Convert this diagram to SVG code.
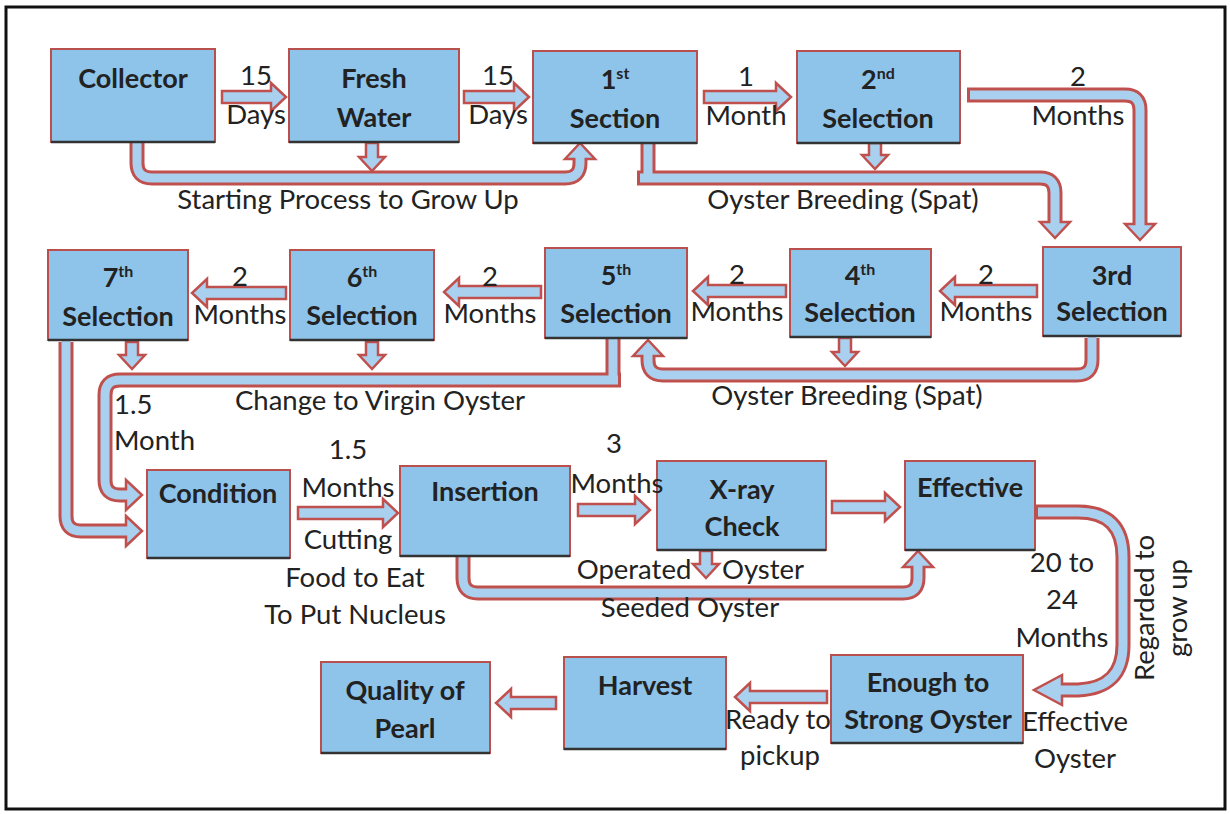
<svg xmlns="http://www.w3.org/2000/svg" width="1230" height="814" viewBox="0 0 1230 814">
<style>
.bg{fill:#ffffff}
.frame{fill:none;stroke:#111;stroke-width:3}
.box{fill:#8ec4ea;stroke:#b9504e;stroke-width:2}
.sh{stroke:#333;stroke-width:2.5}
.lbl{font-family:Lato,"Liberation Sans",sans-serif;font-size:27px;font-weight:bold;text-anchor:middle;fill:#222}
.txt{font-family:Lato,"Liberation Sans",sans-serif;font-size:27.5px;text-anchor:middle;fill:#222}
.sup{font-size:16px}
.arr{fill:#a9d1ef;stroke:#c0504d;stroke-width:2.5;stroke-linejoin:miter}
.cout{fill:none;stroke:#c0504d;stroke-width:15}
.cin{fill:none;stroke:#a9d1ef;stroke-width:9}
</style>
<rect class="bg" x="0" y="0" width="1230" height="814"/>
<rect class="frame" x="6" y="7" width="1219" height="802"/>

<g id="connectors">
  <!-- straight block arrows -->
  <path class="arr" d="M222,91 H271 V83 L286,97 L271,111 V103 H222 Z"/>
  <path class="arr" d="M464,91 H514 V83 L529,97 L514,111 V103 H464 Z"/>
  <path class="arr" d="M704,91 H776 V83 L791,97 L776,111 V103 H704 Z"/>
  <path class="arr" d="M286,287 H207 V279 L192,293 L207,307 V299 H286 Z"/>
  <path class="arr" d="M541,286 H459 V278 L444,292 L459,306 V298 H541 Z"/>
  <path class="arr" d="M786,285 H708 V277 L693,291 L708,305 V297 H786 Z"/>
  <path class="arr" d="M1037,285 H955 V277 L940,291 L955,305 V297 H1037 Z"/>
  <path class="arr" d="M298,507 H383 V499 L398,513 L383,527 V519 H298 Z"/>
  <path class="arr" d="M578,504 H635 V496 L650,510 L635,524 V516 H578 Z"/>
  <path class="arr" d="M832,501 H885 V493 L900,507 L885,521 V513 H832 Z"/>
  <path class="arr" d="M827,691 H750 V683 L735,697 L750,711 V703 H827 Z"/>
  <path class="arr" d="M556,697 H511 V689 L496,703 L511,717 V709 H556 Z"/>
  <!-- small down arrows -->
  <path class="arr" d="M366,143 V157 H359 L372,171 L385,157 H378 V143 Z"/>
  <path class="arr" d="M869,143 V155 H862 L875,169 L888,155 H881 V143 Z"/>
  <path class="arr" d="M126,342 V355 H119 L132,369 L145,355 H138 V342 Z"/>
  <path class="arr" d="M366,342 V355 H359 L372,369 L385,355 H378 V342 Z"/>
  <path class="arr" d="M839,338 V352 H832 L845,366 L858,352 H851 V338 Z"/>
  <path class="arr" d="M700,551 V564 H693 L706,578 L719,564 H712 V551 Z"/>

  <!-- heads of bent connectors -->
  <path class="arr" d="M565,159 L580,143 L595,159 Z"/>
  <path class="arr" d="M1040,222 L1055,238 L1070,222 Z"/>
  <path class="arr" d="M1125,224 L1140,240 L1155,224 Z"/>
  <path class="arr" d="M633,356 L648,340 L663,356 Z"/>
  <path class="arr" d="M126,480 L142,495 L126,510 Z"/>
  <path class="arr" d="M126,516 L142,531 L126,546 Z"/>
  <path class="arr" d="M903,567 L918,551 L933,567 Z"/>
  <path class="arr" d="M1062,675 L1034,690 L1062,705 Z"/>

  <!-- bent connectors: outline -->
  <path class="cout" d="M137,142 V163 Q137,178 152,178 H565 Q580,178 580,163 V159"/>
  <path class="cout" d="M648,143 V178 M637,178 H1040 Q1055,178 1055,193 V222"/>
  <path class="cout" d="M967,95 H1125 Q1140,95 1140,110 V224"/>
  <path class="cout" d="M1092,338 V360 Q1092,375 1077,375 H663 Q648,375 648,360 V356"/>
  <path class="cout" d="M613,338 V380 M621,380 H120 Q105,380 105,395 V480 Q105,495 120,495 H126"/>
  <path class="cout" d="M66,342 V516 Q66,531 81,531 H126"/>
  <path class="cout" d="M463,557 V578 Q463,593 478,593 H903 Q918,593 918,578 V567"/>
  <path class="cout" d="M1035,512 H1078 Q1123,512 1123,557 V645 Q1123,688 1078,690 H1062"/>
  <!-- bent connectors: fill -->
  <path class="cin" d="M137,141 V163 Q137,178 152,178 H565 Q580,178 580,163 V156"/>
  <path class="cin" d="M648,142 V178 M640,178 H1040 Q1055,178 1055,193 V225"/>
  <path class="cin" d="M970,95 H1125 Q1140,95 1140,110 V227"/>
  <path class="cin" d="M1092,337 V360 Q1092,375 1077,375 H663 Q648,375 648,360 V353"/>
  <path class="cin" d="M613,337 V380 M618,380 H120 Q105,380 105,395 V480 Q105,495 120,495 H129"/>
  <path class="cin" d="M66,341 V516 Q66,531 81,531 H129"/>
  <path class="cin" d="M463,556 V578 Q463,593 478,593 H903 Q918,593 918,578 V564"/>
  <path class="cin" d="M1038,512 H1078 Q1123,512 1123,557 V645 Q1123,688 1078,690 H1059"/>
</g>

<g id="collector">
  <rect class="box" x="51" y="49" width="164" height="93"/><line class="sh" x1="51" y1="142" x2="215" y2="142"/>
  <text class="lbl" x="133" y="88">Collector</text>
</g>
<g id="fresh-water">
  <rect class="box" x="289" y="49" width="170" height="93"/><line class="sh" x1="289" y1="142" x2="459" y2="142"/>
  <text class="lbl" x="374" y="88">Fresh</text>
  <text class="lbl" x="374" y="127">Water</text>
</g>
<g id="first-section">
  <rect class="box" x="533" y="51" width="164" height="92"/><line class="sh" x1="533" y1="143" x2="697" y2="143"/>
  <text class="lbl" x="615" y="89">1<tspan class="sup" dy="-10">st</tspan></text>
  <text class="lbl" x="615" y="128">Section</text>
</g>
<g id="second-selection">
  <rect class="box" x="797" y="51" width="163" height="92"/><line class="sh" x1="797" y1="143" x2="960" y2="143"/>
  <text class="lbl" x="878" y="89">2<tspan class="sup" dy="-10">nd</tspan></text>
  <text class="lbl" x="878" y="128">Selection</text>
</g>
<g id="seventh-selection">
  <rect class="box" x="48" y="250" width="140" height="90"/><line class="sh" x1="48" y1="340" x2="188" y2="340"/>
  <text class="lbl" x="118" y="287">7<tspan class="sup" dy="-10">th</tspan></text>
  <text class="lbl" x="118" y="326">Selection</text>
</g>
<g id="sixth-selection">
  <rect class="box" x="290" y="250" width="144" height="90"/><line class="sh" x1="290" y1="340" x2="434" y2="340"/>
  <text class="lbl" x="362" y="287">6<tspan class="sup" dy="-10">th</tspan></text>
  <text class="lbl" x="362" y="325">Selection</text>
</g>
<g id="fifth-selection">
  <rect class="box" x="545" y="248" width="142" height="90"/><line class="sh" x1="545" y1="338" x2="687" y2="338"/>
  <text class="lbl" x="616" y="285">5<tspan class="sup" dy="-10">th</tspan></text>
  <text class="lbl" x="616" y="323">Selection</text>
</g>
<g id="fourth-selection">
  <rect class="box" x="790" y="249" width="141" height="88"/><line class="sh" x1="790" y1="337" x2="931" y2="337"/>
  <text class="lbl" x="860" y="285">4<tspan class="sup" dy="-10">th</tspan></text>
  <text class="lbl" x="860" y="322">Selection</text>
</g>
<g id="third-selection">
  <rect class="box" x="1043" y="247" width="138" height="89"/><line class="sh" x1="1043" y1="336" x2="1181" y2="336"/>
  <text class="lbl" x="1112" y="285">3rd</text>
  <text class="lbl" x="1112" y="321">Selection</text>
</g>
<g id="condition">
  <rect class="box" x="147" y="470" width="143" height="88"/><line class="sh" x1="147" y1="558" x2="290" y2="558"/>
  <text class="lbl" x="218" y="503">Condition</text>
</g>
<g id="insertion">
  <rect class="box" x="400" y="466" width="170" height="90"/><line class="sh" x1="400" y1="556" x2="570" y2="556"/>
  <text class="lbl" x="485" y="501">Insertion</text>
</g>
<g id="xray-check">
  <rect class="box" x="657" y="461" width="169" height="89"/><line class="sh" x1="657" y1="550" x2="826" y2="550"/>
  <text class="lbl" x="742" y="499">X-ray</text>
  <text class="lbl" x="742" y="536">Check</text>
</g>
<g id="effective">
  <rect class="box" x="905" y="461" width="130" height="89"/><line class="sh" x1="905" y1="550" x2="1035" y2="550"/>
  <text class="lbl" x="970" y="497">Effective</text>
</g>
<g id="enough-strong">
  <rect class="box" x="831" y="655" width="192" height="88"/><line class="sh" x1="831" y1="743" x2="1023" y2="743"/>
  <text class="lbl" x="928" y="692">Enough to</text>
  <text class="lbl" x="928" y="729">Strong Oyster</text>
</g>
<g id="harvest">
  <rect class="box" x="564" y="657" width="162" height="92"/><line class="sh" x1="564" y1="749" x2="726" y2="749"/>
  <text class="lbl" x="645" y="695">Harvest</text>
</g>
<g id="quality-pearl">
  <rect class="box" x="321" y="662" width="169" height="91"/><line class="sh" x1="321" y1="753" x2="490" y2="753"/>
  <text class="lbl" x="405" y="700">Quality of</text>
  <text class="lbl" x="405" y="738">Pearl</text>
</g>

<g id="labels">
  <text class="txt" x="256" y="85">15</text>
  <text class="txt" x="256" y="124">Days</text>
  <text class="txt" x="498" y="85">15</text>
  <text class="txt" x="498" y="124">Days</text>
  <text class="txt" x="746" y="86">1</text>
  <text class="txt" x="746" y="125">Month</text>
  <text class="txt" x="1078" y="86">2</text>
  <text class="txt" x="1078" y="125">Months</text>
  <text class="txt" x="348" y="209">Starting Process to Grow Up</text>
  <text class="txt" x="843" y="209">Oyster Breeding (Spat)</text>
  <text class="txt" x="240" y="286">2</text>
  <text class="txt" x="240" y="324">Months</text>
  <text class="txt" x="490" y="286">2</text>
  <text class="txt" x="490" y="323">Months</text>
  <text class="txt" x="737" y="284">2</text>
  <text class="txt" x="737" y="321">Months</text>
  <text class="txt" x="986" y="284">2</text>
  <text class="txt" x="986" y="321">Months</text>
  <text class="txt" x="847" y="405">Oyster Breeding (Spat)</text>
  <text class="txt" x="380" y="410">Change to Virgin Oyster</text>
  <text class="txt" x="114" y="414" style="text-anchor:start">1.5</text>
  <text class="txt" x="114" y="450" style="text-anchor:start">Month</text>
  <text class="txt" x="348" y="459">1.5</text>
  <text class="txt" x="348" y="497">Months</text>
  <text class="txt" x="348" y="549">Cutting</text>
  <text class="txt" x="355" y="587">Food to Eat</text>
  <text class="txt" x="355" y="624">To Put Nucleus</text>
  <text class="txt" x="614" y="453">3</text>
  <text class="txt" x="617" y="493">Months</text>
  <text class="txt" x="634" y="579">Operated</text>
  <text class="txt" x="763" y="579">Oyster</text>
  <text class="txt" x="690" y="617">Seeded Oyster</text>
  <text class="txt" x="1062" y="572">20 to</text>
  <text class="txt" x="1062" y="609">24</text>
  <text class="txt" x="1062" y="647">Months</text>
  <text class="txt" x="1154" y="608" transform="rotate(-90 1154 608)">Regarded to</text>
  <text class="txt" x="1187" y="608" transform="rotate(-90 1187 608)">grow up</text>
  <text class="txt" x="1075" y="731">Effective</text>
  <text class="txt" x="1075" y="768">Oyster</text>
  <text class="txt" x="778" y="729">Ready to</text>
  <text class="txt" x="780" y="765">pickup</text>
</g>
</svg>
